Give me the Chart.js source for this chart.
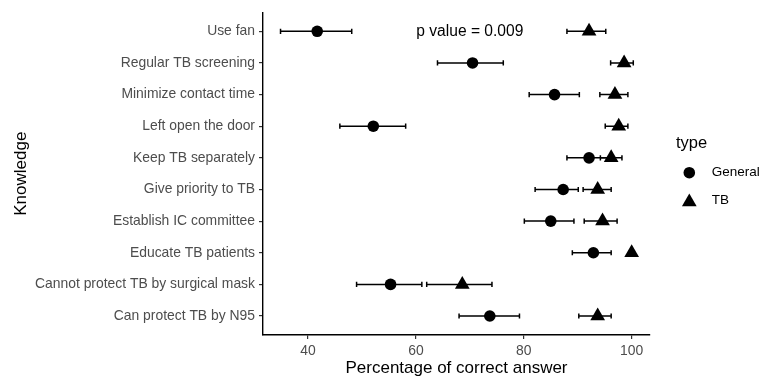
<!DOCTYPE html>
<html>
<head>
<meta charset="utf-8">
<script src="https://cdn.jsdelivr.net/npm/chart.js@4/dist/chart.umd.min.js"></script>
<style>
  html, body { margin: 0; padding: 0; background: #ffffff; }
  canvas { display: block; }
</style>
</head>
<body>
<canvas id="chart" width="761" height="381"></canvas>
<script>
// Knowledge items, top to bottom
const categories = [
  'Use fan',
  'Regular TB screening',
  'Minimize contact time',
  'Left open the door',
  'Keep TB separately',
  'Give priority to TB',
  'Establish IC committee',
  'Educate TB patients',
  'Cannot protect TB by surgical mask',
  'Can protect TB by N95'
];

// Percentage of correct answers with confidence limits
const generalPct  = [41.7, 70.5, 85.7, 52.1, 92.1, 87.3, 85.0, 92.9, 55.3, 73.7];
const generalLow  = [34.9, 64.0, 81.0, 45.9, 88.0, 82.1, 80.1, 89.0, 49.0, 68.0];
const generalHigh = [48.1, 76.2, 90.3, 58.1, 96.1, 90.1, 89.3, 96.2, 61.1, 79.2];

const tbPct  = [92.1, 98.6, 96.9, 97.6, 96.2, 93.7, 94.6, 100.0, 68.6, 93.7];
const tbLow  = [88.0, 96.1, 94.1, 95.1, 94.2, 91.0, 91.2, 100.0, 62.0, 90.2];
const tbHigh = [95.2, 100.3, 99.3, 99.3, 98.2, 96.2, 97.3, 100.0, 74.1, 96.2];

const xTicks = [40, 60, 80, 100];
const seriesNames = ['General', 'TB'];
const annotationText = 'p value = 0.009';

const FONT = "'Liberation Sans', Arial, Helvetica, sans-serif";

const toPoints = (vals) => vals.map((v, i) => ({ x: v, y: i }));

// Horizontal error bars with end caps, drawn beneath the markers
const errorBarPlugin = {
  id: 'errorBars',
  beforeDatasetsDraw(chart) {
    const { ctx, scales: { x, y } } = chart;
    const groups = [[generalLow, generalHigh], [tbLow, tbHigh]];
    const cap = 2.6;
    ctx.save();
    ctx.strokeStyle = '#000000';
    ctx.lineWidth = 1.5;
    groups.forEach(([lo, hi]) => {
      lo.forEach((l, i) => {
        const x0 = x.getPixelForValue(l);
        const x1 = x.getPixelForValue(hi[i]);
        const yy = y.getPixelForValue(i);
        ctx.beginPath();
        ctx.moveTo(x0, yy); ctx.lineTo(x1, yy);
        ctx.moveTo(x0, yy - cap); ctx.lineTo(x0, yy + cap);
        ctx.moveTo(x1, yy - cap); ctx.lineTo(x1, yy + cap);
        ctx.stroke();
      });
    });
    ctx.restore();
  }
};

// Text annotation and the "type" legend
const extrasPlugin = {
  id: 'extras',
  afterDraw(chart) {
    const { ctx, scales: { x, y } } = chart;
    ctx.save();
    ctx.fillStyle = '#000000';
    ctx.textBaseline = 'middle';
    ctx.textAlign = 'center';
    ctx.font = `15.6px ${FONT}`;
    ctx.fillText(annotationText, x.getPixelForValue(70), y.getPixelForValue(0));

    // legend
    ctx.textAlign = 'left';
    ctx.font = `16.5px ${FONT}`;
    ctx.fillText('type', 676, 143);
    ctx.font = `13.5px ${FONT}`;
    const keys = [
      { style: 'circle', r: 5.8, y: 172.7 },
      { style: 'triangle', r: 8.5, y: 202 }
    ];
    keys.forEach((k, i) => {
      Chart.helpers.drawPoint(ctx, {
        pointStyle: k.style, radius: k.r, rotation: 0, borderWidth: 0
      }, 689.3, k.y);
      ctx.fillStyle = '#000000';
      ctx.fillText(seriesNames[i], 711.7, i === 0 ? 172.7 : 200);
    });
    ctx.restore();
  }
};

new Chart(document.getElementById('chart'), {
  type: 'scatter',
  data: {
    datasets: [
      {
        label: seriesNames[0],
        data: toPoints(generalPct),
        pointStyle: 'circle',
        pointRadius: 5.8,
        pointHoverRadius: 5.8,
        backgroundColor: '#000000',
        borderColor: '#000000',
        borderWidth: 0
      },
      {
        label: seriesNames[1],
        data: toPoints(tbPct),
        pointStyle: 'triangle',
        pointRadius: 8.5,
        pointHoverRadius: 8.5,
        backgroundColor: '#000000',
        borderColor: '#000000',
        borderWidth: 0
      }
    ]
  },
  options: {
    responsive: false,
    animation: false,
    events: [],
    layout: { padding: { top: 10, right: 111, left: 0, bottom: 0 } },
    plugins: {
      legend: { display: false },
      tooltip: { enabled: false }
    },
    scales: {
      x: {
        type: 'linear',
        min: 31.65,
        max: 103.4,
        afterBuildTicks(scale) { scale.ticks = xTicks.map(v => ({ value: v })); },
        afterFit(scale) { scale.height = 46; },
        border: { display: true, color: '#000000', width: 1.4 },
        grid: { drawOnChartArea: false, drawTicks: true, tickLength: 4, color: '#333333', lineWidth: 1.2 },
        ticks: {
          color: '#4D4D4D',
          padding: 4,
          font: { family: FONT, size: 13.9 },
          maxRotation: 0
        },
        title: {
          display: true,
          text: 'Percentage of correct answer',
          color: '#000000',
          font: { family: FONT, size: 17, lineHeight: 1.2 },
          padding: { top: 0, bottom: 2 }
        }
      },
      y: {
        type: 'linear',
        reverse: true,
        min: -0.6,
        max: 9.6,
        afterBuildTicks(scale) { scale.ticks = categories.map((c, i) => ({ value: i })); },
        afterFit(scale) { scale.width = 263; },
        border: { display: true, color: '#000000', width: 1.4 },
        grid: { drawOnChartArea: false, drawTicks: true, tickLength: 4, color: '#333333', lineWidth: 1.2 },
        ticks: {
          color: '#4D4D4D',
          padding: 4,
          font: { family: FONT, size: 13.9 },
          callback: (v) => categories[v]
        },
        title: {
          display: true,
          text: 'Knowledge',
          color: '#000000',
          font: { family: FONT, size: 17, lineHeight: 1.2 },
          padding: { top: 11, bottom: 0 }
        }
      }
    }
  },
  plugins: [errorBarPlugin, extrasPlugin]
});
</script>
</body>
</html>
